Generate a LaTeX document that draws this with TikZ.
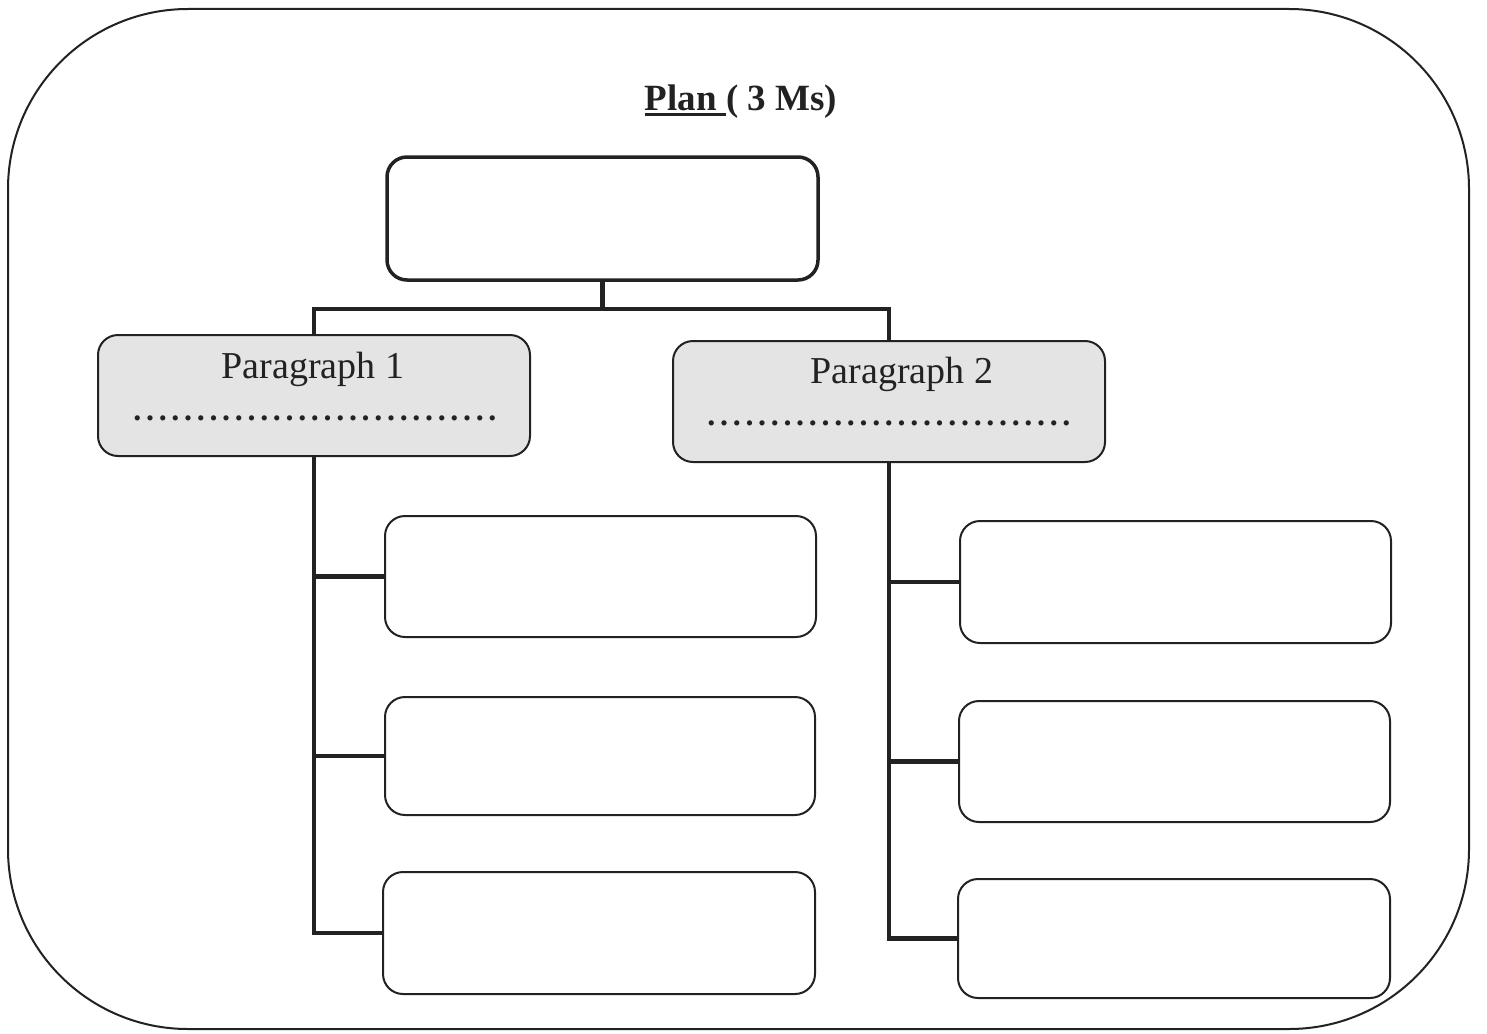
\documentclass[tikz,border=0pt]{standalone}
\usepackage{fontspec}
\setmainfont{Liberation Serif}
\definecolor{ink}{HTML}{222222}
\definecolor{pgray}{HTML}{E4E4E4}
\newcommand\dotsrow[1]{\hbox to #1{\xleaders\hbox to 12.4pt{\hss.\hss}\hfill}}
\newcommand\thickul[1]{\setbox0\hbox{#1}\rlap{\rule[-6pt]{\wd0}{3.5pt}}\box0}
\tikzset{
  frame/.style={draw=ink, line width=2pt, rounded corners=180pt},
  emptybox/.style={draw=ink, line width=2pt, rounded corners=20pt, rectangle, inner sep=0pt, fill=white},
  topbox/.style={emptybox, line width=3.5pt},
  parbox/.style={emptybox, fill=pgray},
  conn/.style={draw=ink, line width=4.5pt},
  lbl/.style={text=ink, font=\fontsize{38}{40}\selectfont, inner sep=0pt},
  dotlbl/.style={text=ink, font=\fontsize{32}{34}\selectfont\bfseries, inner sep=0pt}
}
\begin{document}
\begin{tikzpicture}[x=1pt,y=-1pt]
\useasboundingbox (0,0) rectangle (1487,1033);
\fill[white] (0,0) rectangle (1487,1033);
\draw[frame] (8,9) rectangle (1469,1029);
% title
\node[lbl, font=\fontsize{37}{40}\selectfont\bfseries, anchor=base] (title) at (741,110) {\thickul{Plan }( 3 Ms)};
% boxes
\node[topbox, minimum width=431pt, minimum height=123pt] (top) at (602.5,218.5) {};
\node[parbox, minimum width=432pt, minimum height=121pt] (p1) at (314,395.5) {};
\node[parbox, minimum width=432pt, minimum height=121pt] (p2) at (889,401.5) {};
\node[emptybox, minimum width=431pt, minimum height=121pt] (l1) at (600.5,576.5) {};
\node[emptybox, minimum width=430pt, minimum height=118pt] (l2) at (600,756) {};
\node[emptybox, minimum width=432pt, minimum height=122pt] (l3) at (599,933) {};
\node[emptybox, minimum width=431pt, minimum height=122pt] (r1) at (1175.5,582) {};
\node[emptybox, minimum width=431pt, minimum height=121pt] (r2) at (1174.5,761.5) {};
\node[emptybox, minimum width=432pt, minimum height=119pt] (r3) at (1174,938.5) {};
% texts
\node[lbl, anchor=base] (p1t) at (313,378) {Paragraph 1};
\node[dotlbl] (p1d) at (315,418) {\dotsrow{368pt}};
\node[lbl, anchor=base] (p2t) at (902,383) {Paragraph 2};
\node[dotlbl] (p2d) at (889,423) {\dotsrow{368pt}};
% connectors
\coordinate (hub) at (602.5,309);
\draw[conn] (top.south) -- (hub);
\draw[conn] (p1.north) |- (hub) -| (p2.north);
\draw[conn] (p1.south) |- (l3.west);
\draw[conn] (p1.south |- l1.west) -- (l1.west);
\draw[conn] (p1.south |- l2.west) -- (l2.west);
\draw[conn] (p2.south) |- (r3.west);
\draw[conn] (p2.south |- r1.west) -- (r1.west);
\draw[conn] (p2.south |- r2.west) -- (r2.west);
\end{tikzpicture}
\end{document}
